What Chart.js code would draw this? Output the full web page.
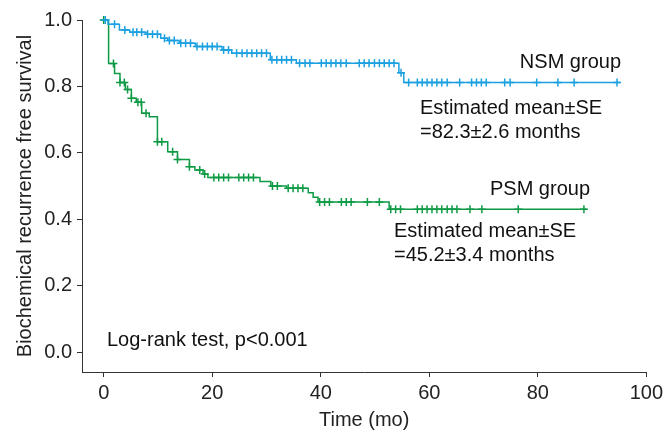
<!DOCTYPE html>
<html>
<head>
<meta charset="utf-8">
<script src="https://cdn.jsdelivr.net/npm/chart.js@4.4.1/dist/chart.umd.min.js"></script>
<style>
  html, body { margin: 0; padding: 0; background: #fff; }
  #wrap { width: 667px; height: 436px; }
</style>
</head>
<body>
<div id="wrap"><canvas id="km" width="667" height="436"></canvas></div>
<script>
// eixos
const xTicks = [0, 20, 40, 60, 80, 100];
const yTicks = [0, 0.2, 0.4, 0.6, 0.8, 1.0];

// NSM group - tempos dos eventos e sobrevida depois de cada um
const nsmTimes = [0, 0.8, 2.9, 4.8, 7.8, 10.5, 11.8, 13.9, 16.9, 21.8, 23.6, 30.7, 35.5, 54.4, 55.3];
const nsmSurv  = [1.0, 0.987, 0.970, 0.963, 0.957, 0.945, 0.938, 0.930, 0.920, 0.910, 0.900, 0.880, 0.870, 0.841, 0.812];
const nsmEnd = 95.2;
const nsmCensored = [0.3, 2.0, 3.9, 5.4, 6.1, 7.0, 8.1, 9.0, 9.9, 11.2, 12.1, 13.0, 14.2, 15.1, 16.0,
  17.2, 18.2, 19.1, 20.0, 20.9, 22.1, 23.0, 24.5, 25.5, 26.4, 27.3, 28.2, 29.1, 30.0,
  31.0, 31.9, 32.8, 33.7, 34.6, 36.1, 37.1, 38.0, 40.1, 41.0, 41.9, 42.8, 43.7, 44.7,
  47.1, 48.0, 48.9, 49.9, 50.8, 51.7, 52.6, 53.5, 54.8, 56.2, 57.8, 58.7, 59.6, 60.5,
  61.4, 62.3, 63.3, 65.6, 67.8, 68.7, 69.6, 70.5, 73.9, 74.9, 79.8, 83.7, 86.7, 94.6];

// PSM group
const psmTimes = [0, 0.9, 2.0, 3.0, 4.0, 5.1, 6.0, 7.0, 8.4, 9.9, 11.8, 13.6, 15.8, 16.8, 18.3, 19.2,
  28.8, 30.8, 33.7, 37.7, 38.6, 39.5, 52.6];
const psmSurv  = [1.0, 0.869, 0.839, 0.812, 0.791, 0.764, 0.752, 0.719, 0.709, 0.633, 0.603, 0.580,
  0.558, 0.548, 0.536, 0.526, 0.514, 0.500, 0.493, 0.480, 0.466, 0.452, 0.430];
const psmEnd = 89;
const psmCensored = [0, 1.8, 3.0, 3.8, 4.4, 5.1, 6.3, 6.9, 7.8, 9.9, 10.7, 12.7, 13.6, 15.8, 17.7, 18.6,
  20.3, 21.2, 22.1, 23.0, 24.9, 25.8, 26.7, 27.6, 31.1, 32.0, 34.0, 34.9, 35.8, 36.7,
  39.8, 40.7, 41.6, 43.8, 44.7, 45.6, 48.6, 50.8, 52.9, 53.8, 54.7, 57.8, 58.7, 59.6,
  60.5, 61.4, 62.3, 63.3, 64.2, 65.1, 67.5, 69.7, 76.4, 88.5];

const corNsm = '#1aa0e0';
const corPsm = '#0e9a45';
const fonte = '"Liberation Sans", Arial, sans-serif';

// sobrevida no tempo t (curva em degrau)
function survivalAt(times, surv, t) {
  let s = surv[0];
  for (let i = 0; i < times.length; i++) {
    if (times[i] <= t) s = surv[i];
  }
  return s;
}

function stepPoints(times, surv, end) {
  const pts = times.map((t, i) => ({ x: t, y: surv[i] }));
  pts.push({ x: end, y: surv[surv.length - 1] });
  return pts;
}

function censorPoints(times, surv, cens) {
  return cens.map(t => ({ x: t, y: survivalAt(times, surv, t) }));
}

// textos dentro do gráfico
const textos = [
  { t: 'NSM group', x: 621, y: 68, align: 'right' },
  { t: 'Estimated mean\u00b1SE', x: 420, y: 114, align: 'left' },
  { t: '=82.3\u00b12.6 months', x: 420, y: 138, align: 'left' },
  { t: 'PSM group', x: 590, y: 195, align: 'right' },
  { t: 'Estimated mean\u00b1SE', x: 394, y: 237, align: 'left' },
  { t: '=45.2\u00b13.4 months', x: 394, y: 261, align: 'left' },
  { t: 'Log-rank test, p<0.001', x: 107, y: 346, align: 'left' }
];

const textPlugin = {
  id: 'textos',
  afterDraw(chart) {
    const ctx = chart.ctx;
    ctx.save();
    ctx.fillStyle = '#111';
    ctx.font = '20px ' + fonte;
    ctx.textBaseline = 'alphabetic';
    textos.forEach(o => {
      ctx.textAlign = o.align;
      ctx.fillText(o.t, o.x, o.y);
    });
    ctx.restore();
  }
};

const linha = (data, cor) => ({
  type: 'line',
  data,
  stepped: 'before',
  borderColor: cor,
  borderWidth: 1.5,
  pointRadius: 0,
  fill: false,
  clip: false
});

const cruz = (data, cor) => ({
  type: 'line',
  data,
  showLine: false,
  pointStyle: 'cross',
  pointRadius: 4,
  borderColor: cor,
  borderWidth: 1.5,
  clip: false
});

new Chart(document.getElementById('km'), {
  type: 'line',
  data: {
    datasets: [
      linha(stepPoints(nsmTimes, nsmSurv, nsmEnd), corNsm),
      cruz(censorPoints(nsmTimes, nsmSurv, nsmCensored), corNsm),
      linha(stepPoints(psmTimes, psmSurv, psmEnd), corPsm),
      cruz(censorPoints(psmTimes, psmSurv, psmCensored), corPsm)
    ]
  },
  options: {
    responsive: false,
    animation: false,
    devicePixelRatio: 1,
    layout: { padding: { top: 20, right: 16, left: 0, bottom: 0 } },
    plugins: { legend: { display: false }, tooltip: { enabled: false } },
    scales: {
      x: {
        type: 'linear',
        min: -4,
        max: 100,
        afterBuildTicks: s => { s.ticks = xTicks.map(v => ({ value: v })); },
        afterFit: s => { s.height = 64; },
        grid: { drawOnChartArea: false, drawTicks: true, tickLength: 5, color: '#333' },
        border: { display: true, color: '#333', width: 1 },
        ticks: { color: '#222', font: { size: 20, family: fonte }, padding: 4, maxRotation: 0 },
        title: { display: true, text: 'Time (mo)', color: '#222', font: { size: 20, family: fonte }, padding: { top: 0, bottom: 4 } }
      },
      y: {
        min: -0.06,
        max: 1.0,
        afterBuildTicks: s => { s.ticks = yTicks.map(v => ({ value: v })); },
        afterFit: s => { s.width = 82; },
        grid: { drawOnChartArea: false, drawTicks: true, tickLength: 5, color: '#333' },
        border: { display: true, color: '#333', width: 1 },
        ticks: { color: '#222', font: { size: 20, family: fonte }, padding: 5, callback: v => v.toFixed(1) },
        title: { display: true, text: 'Biochemical recurrence free survival', color: '#222', font: { size: 20, family: fonte }, padding: { top: 13, bottom: 0 } }
      }
    }
  },
  plugins: [textPlugin]
});
</script>
</body>
</html>
